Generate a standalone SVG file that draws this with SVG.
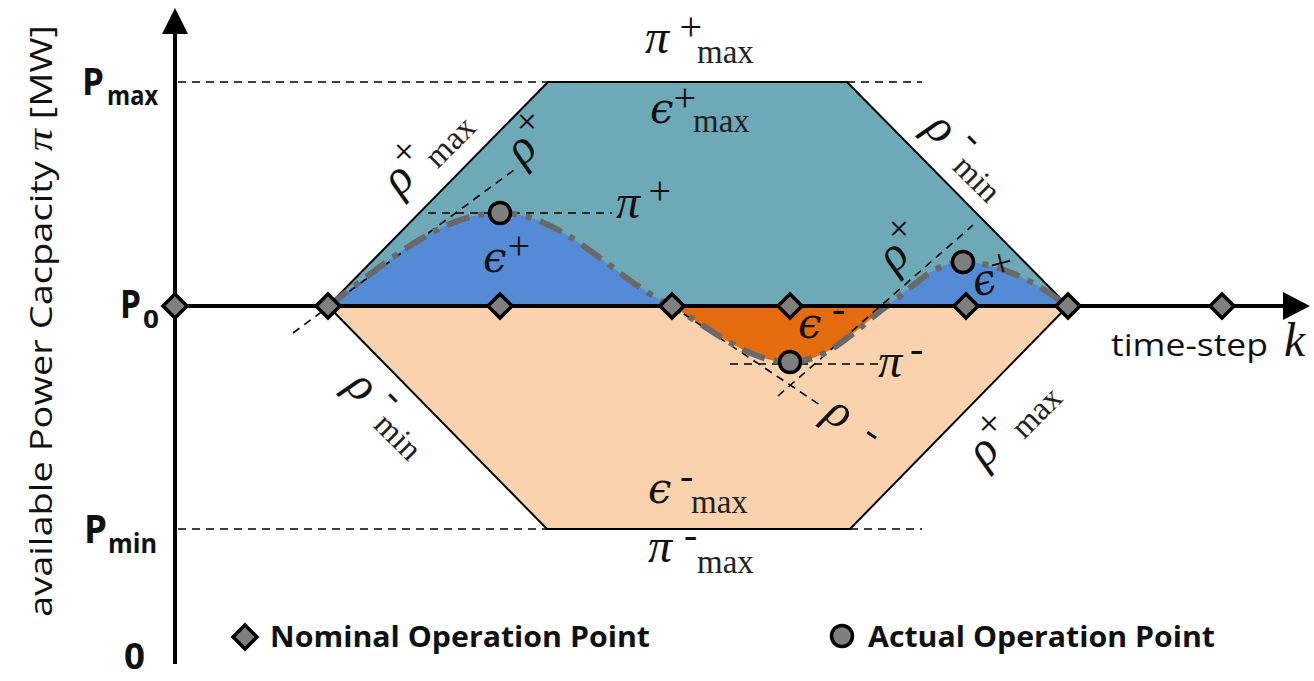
<svg xmlns="http://www.w3.org/2000/svg" width="1314" height="681" viewBox="0 0 1314 681">
<defs>
<style>
.m{font-family:"Liberation Serif","DejaVu Serif",serif;font-style:italic;font-size:48px;fill:#111}
.e{font-family:"DejaVu Serif","Liberation Serif",serif;font-style:italic;font-size:42px;fill:#111}
.sp{font-family:"Liberation Serif","DejaVu Serif",serif;font-style:italic;font-size:40px;fill:#111}
.sb{font-family:"Liberation Serif","DejaVu Serif",serif;font-size:33px;fill:#222}
.ax{font-family:"Open Sans","Noto Sans",sans-serif;font-weight:700;fill:#111}
.lg{font-family:"Open Sans","Noto Sans",sans-serif;font-weight:700;font-size:28px;fill:#111}
.rg{font-family:"Open Sans","Noto Sans",sans-serif;font-size:31px;fill:#111}
.thin{stroke:#000;stroke-width:1.6;stroke-dasharray:8 6;fill:none}
.edge{stroke:#000;stroke-width:2;fill:none}
.dia{fill:#7f7f7f;stroke:#000;stroke-width:3.5;stroke-linejoin:miter}
.dot{fill:#7f7f7f;stroke:#000;stroke-width:3.5}
.curve{stroke:#696969;stroke-width:6;fill:none;stroke-dasharray:24 9 6 9}
</style>
<path id="dmd" d="M0,-12 L12,0 L0,12 L-12,0 Z"/>
</defs>

<g id="regions">
<polygon points="328,306 547,529 850,529 1068,306" fill="#fad3ae"/>
<polygon points="328,306 548,82 847,82 1068,306" fill="#6ea9b8"/>
<path d="M328,306 C385,264 440,213 500,213 C565,213 615,280 672,306 Z" fill="#548bd4"/>
<path d="M887,306 C915,285 935,262 963,262 C1000,262 1040,285 1068,306 Z" fill="#548bd4"/>
<path d="M672,306 C720,335 750,362 790,362 C830,362 860,325 887,306 Z" fill="#e46c0c"/>
<polyline class="edge" points="328,306 548,82 847,82 1068,306"/>
<polyline class="edge" points="328,306 547,529 850,529 1068,306"/>
</g>

<g id="connectors">
<line class="thin" x1="178" y1="82" x2="548" y2="82"/>
<line class="thin" x1="847" y1="82" x2="922" y2="82"/>
<line class="thin" x1="178" y1="529" x2="547" y2="529"/>
<line class="thin" x1="850" y1="529" x2="922" y2="529"/>
<line class="thin" x1="293" y1="333" x2="518" y2="167"/>
<line class="thin" x1="428" y1="213" x2="612" y2="213"/>
<line class="thin" x1="672" y1="306" x2="820" y2="405"/>
<line class="thin" x1="778" y1="396" x2="973" y2="225"/>
<line class="thin" x1="730" y1="364" x2="878" y2="364"/>
<path class="curve" d="M328,306 C385,264 440,213 500,213 C565,213 615,280 672,306 C720,335 750,362 790,362 C830,362 860,325 887,306 C915,285 935,262 963,262 C1000,262 1040,285 1062,302"/>
</g>

<g id="axes">
<line x1="175" y1="30" x2="175" y2="664" stroke="#000" stroke-width="4"/>
<polygon points="175,8 162,34 188,34" fill="#000"/>
<line x1="175" y1="306" x2="1285" y2="306" stroke="#000" stroke-width="4"/>
<polygon points="1310,306 1283,292 1283,320" fill="#000"/>
</g>

<g id="nominal-points">
<use href="#dmd" class="dia" x="175" y="306"/>
<use href="#dmd" class="dia" x="328" y="306"/>
<use href="#dmd" class="dia" x="500" y="306"/>
<use href="#dmd" class="dia" x="672" y="306"/>
<use href="#dmd" class="dia" x="790" y="306"/>
<use href="#dmd" class="dia" x="966" y="306"/>
<use href="#dmd" class="dia" x="1068" y="306"/>
<use href="#dmd" class="dia" x="1222" y="306"/>
</g>

<g id="actual-points">
<circle class="dot" cx="500" cy="213" r="10.5"/>
<circle class="dot" cx="790" cy="362" r="10.5"/>
<circle class="dot" cx="963" cy="262" r="10.5"/>
</g>

<g id="axis-labels">
<text class="ax" x="82" y="95" font-size="38" textLength="22" lengthAdjust="spacingAndGlyphs">P</text>
<text class="ax" x="107" y="105" font-size="26" textLength="51" lengthAdjust="spacingAndGlyphs">max</text>
<text class="ax" x="120" y="318" font-size="40" textLength="21" lengthAdjust="spacingAndGlyphs">P</text>
<text class="ax" x="143" y="328" font-size="25" textLength="16" lengthAdjust="spacingAndGlyphs">0</text>
<text class="ax" x="84" y="543" font-size="40" textLength="23" lengthAdjust="spacingAndGlyphs">P</text>
<text class="ax" x="108" y="553" font-size="26" textLength="49" lengthAdjust="spacingAndGlyphs">min</text>
<text class="ax" x="124" y="669" font-size="36" textLength="21" lengthAdjust="spacingAndGlyphs">0</text>
<text class="rg" transform="translate(52,617) rotate(-90)" textLength="592" lengthAdjust="spacingAndGlyphs">available Power Cacpacity <tspan font-family="Liberation Serif, DejaVu Serif, serif" font-style="italic" font-size="36">π</tspan> [MW]</text>
<text class="rg" x="1111" y="356" font-size="33" textLength="157" lengthAdjust="spacingAndGlyphs">time-step</text>
<text class="m" x="1284" y="356" font-size="42">k</text>
</g>

<g id="math-labels">
<text class="m" x="645" y="53">π</text><text class="sp" x="677" y="40">+</text><text class="sb" x="697" y="63">max</text>
<text class="e" x="650" y="123">ϵ</text><text class="sp" x="671" y="111">+</text><text class="sb" x="693" y="132">max</text>
<text class="e" x="483" y="272">ϵ</text><text class="sp" x="505" y="259">+</text>
<text class="m" x="616" y="218">π</text><text class="sp" x="646" y="204">+</text>
<text class="e" x="798" y="338">ϵ</text><text class="sp" x="832" y="322">-</text>
<text class="m" x="878" y="377">π</text><text class="sp" x="910" y="362">-</text>
<g transform="translate(976,297) rotate(-15)"><text class="e" x="0" y="0">ϵ</text><text class="sp" x="19" y="-13">+</text></g>
<text class="e" x="648" y="503">ϵ</text><text class="sp" x="680" y="489">-</text><text class="sb" x="691" y="513">max</text>
<text class="m" x="648" y="562">π</text><text class="sp" x="684" y="548">-</text><text class="sb" x="697" y="573">max</text>
<g transform="translate(400,197) rotate(-45)"><text class="m" x="0" y="0">ρ</text><text class="sp" x="21" y="-16">+</text><text class="sb" x="46" y="7">max</text></g>
<g transform="translate(923,130) rotate(45)"><text class="m" x="0" y="0">ρ</text><text class="sp" x="35" y="-18">-</text><text class="sb" x="47" y="7">min</text></g>
<g transform="translate(344,388) rotate(45)"><text class="m" x="0" y="0">ρ</text><text class="sp" x="35" y="-18">-</text><text class="sb" x="47" y="7">min</text></g>
<g transform="translate(985,469) rotate(-45)"><text class="m" x="0" y="0">ρ</text><text class="sp" x="21" y="-16">+</text><text class="sb" x="48" y="7">max</text></g>
<g transform="translate(523,167) rotate(-45)"><text class="m" x="0" y="0">ρ</text><text class="sp" x="21" y="-16">+</text></g>
<g transform="translate(895,274) rotate(-45)"><text class="m" x="0" y="0">ρ</text><text class="sp" x="21" y="-16">+</text></g>
<g transform="translate(822,418) rotate(34)"><text class="m" x="0" y="0">ρ</text><text class="sp" x="44" y="-4">-</text></g>
</g>

<g id="legend">
<use href="#dmd" class="dia" x="245" y="637"/>
<text class="lg" x="270" y="647" textLength="380" lengthAdjust="spacingAndGlyphs">Nominal Operation Point</text>
<circle class="dot" cx="842" cy="636" r="10.5"/>
<text class="lg" x="868" y="647" textLength="347" lengthAdjust="spacingAndGlyphs">Actual Operation Point</text>
</g>
</svg>
